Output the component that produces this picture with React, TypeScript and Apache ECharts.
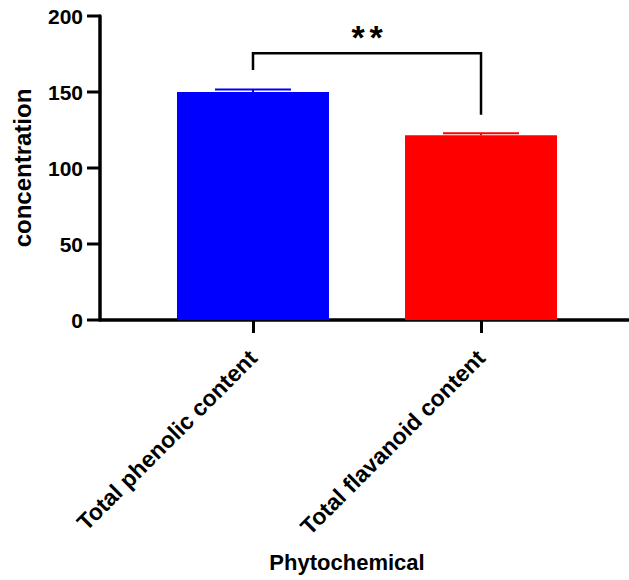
import React, { useEffect, useRef } from "react";
import * as echarts from "echarts";

const categories = ["Total phenolic content", "Total flavanoid content"];
const values = [150, 121.5];
const errors = [1.6, 1.3];
const colors = ["#0000FF", "#FF0000"];
const yTicks = [0, 50, 100, 150, 200];
const bracket = { left: 164.5, top: 175.5, right: 135, label: "**", labelY: 186 };

const FONT = "'Liberation Sans', Arial, sans-serif";
// category slot i is centred at x = i + X_SHIFT on a value x-axis spanning [0, X_MAX]
const X_SHIFT = 0.671;
const X_MAX = 2.32;
const TICK_LEN = 13;

export default function App() {
  const ref = useRef<HTMLDivElement>(null);
  useEffect(() => {
    const chart = echarts.init(ref.current!, null, { renderer: "svg" });
    const xs = categories.map((_, i) => i + X_SHIFT);
    const barData = values.map((v, i) => ({
      value: [xs[i], v],
      itemStyle: { color: colors[i] },
    }));
    chart.setOption({
      animation: false,
      grid: { left: 100, right: 0, top: 16, bottom: 260 },
      xAxis: {
        type: "value",
        min: 0,
        max: X_MAX,
        splitLine: { show: false },
        axisLine: { show: true, lineStyle: { color: "#000", width: 3.5 } },
        axisTick: {
          show: true,
          customValues: xs,
          length: TICK_LEN,
          lineStyle: { color: "#000", width: 3 },
        },
        axisLabel: {
          customValues: xs,
          rotate: 45,
          margin: 34,
          fontFamily: FONT,
          fontWeight: "bold",
          fontSize: 23,
          color: "#000",
          formatter: (v: number) => categories[Math.round(v - X_SHIFT)] ?? "",
        },
        name: "Phytochemical",
        nameLocation: "middle",
        nameGap: 231,
        nameTextStyle: {
          fontFamily: FONT,
          fontWeight: "bold",
          fontSize: 22,
          color: "#000",
          padding: [0, 35, 0, 0],
        },
      },
      yAxis: {
        type: "value",
        min: 0,
        max: 200,
        interval: 50,
        splitLine: { show: false },
        axisLine: { show: true, lineStyle: { color: "#000", width: 3.5 } },
        axisTick: { show: false },
        axisLabel: {
          customValues: yTicks,
          margin: 17,
          fontFamily: FONT,
          fontWeight: "bold",
          fontSize: 21,
          color: "#000",
        },
        name: "concentration",
        nameLocation: "middle",
        nameGap: 66,
        nameTextStyle: {
          fontFamily: FONT,
          fontWeight: "bold",
          fontSize: 24,
          color: "#000",
        },
      },
      series: [
        {
          type: "bar",
          data: barData,
          barWidth: 152,
          z: 2,
        },
        {
          // y-axis tick marks, placed through the axis scale
          type: "custom",
          z: 5,
          clip: false,
          data: yTicks.map((t) => [0, t]),
          renderItem: (params: any, api: any) => {
            const p = api.coord([api.value(0), api.value(1)]);
            return {
              type: "line",
              shape: { x1: p[0] - TICK_LEN, y1: p[1], x2: p[0], y2: p[1] },
              style: { stroke: "#000", lineWidth: 3 },
            };
          },
        },
        {
          type: "custom",
          z: 3,
          data: values.map((v, i) => [xs[i], v, v + errors[i]]),
          renderItem: (params: any, api: any) => {
            const x = api.value(0);
            const base = api.coord([x, api.value(1)]);
            const top = api.coord([x, api.value(2)]);
            const half = 38;
            const c = colors[params.dataIndex];
            return {
              type: "group",
              children: [
                {
                  type: "line",
                  shape: { x1: base[0], y1: base[1], x2: top[0], y2: top[1] },
                  style: { stroke: c, lineWidth: 2 },
                },
                {
                  type: "line",
                  shape: { x1: top[0] - half, y1: top[1], x2: top[0] + half, y2: top[1] },
                  style: { stroke: c, lineWidth: 2 },
                },
              ],
            };
          },
        },
        {
          type: "custom",
          z: 4,
          data: [[xs[0], xs[1], bracket.left, bracket.top, bracket.right, bracket.labelY]],
          renderItem: (params: any, api: any) => {
            const a = api.coord([api.value(0), api.value(2)]);
            const at = api.coord([api.value(0), api.value(3)]);
            const bt = api.coord([api.value(1), api.value(3)]);
            const b = api.coord([api.value(1), api.value(4)]);
            const lbl = api.coord([(api.value(0) + api.value(1)) / 2, api.value(5)]);
            const chars = bracket.label.split("");
            const step = 18;
            return {
              type: "group",
              children: [
                {
                  type: "polyline",
                  shape: { points: [a, at, bt, b] },
                  style: { stroke: "#000", lineWidth: 2.5, fill: "none" },
                },
                ...chars.map((ch, k) => ({
                  type: "text",
                  x: lbl[0] + (k - (chars.length - 1) / 2) * step,
                  y: lbl[1],
                  style: {
                    text: ch,
                    fontFamily: FONT,
                    fontWeight: "bold",
                    fontSize: 34,
                    fill: "#000",
                    align: "center",
                    verticalAlign: "middle",
                  },
                })),
              ],
            };
          },
        },
      ],
    });
    return () => chart.dispose();
  }, []);
  return (
    <div
      ref={ref}
      style={{ position: "fixed", left: 0, top: 0, width: 629, height: 580, background: "#fff" }}
    />
  );
}
